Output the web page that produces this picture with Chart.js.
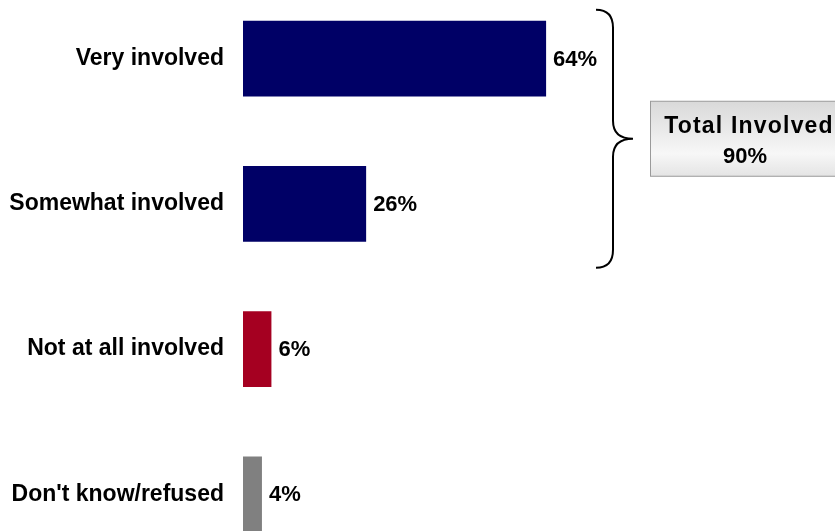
<!DOCTYPE html>
<html>
<head>
<meta charset="utf-8">
<script src="https://cdn.jsdelivr.net/npm/chart.js@4/dist/chart.umd.min.js"></script>
<style>
    html, body { margin: 0; padding: 0; background: #fff; overflow: hidden; }
    body { width: 835px; height: 531px; position: relative; }
    /* the category bands run a little past the top and bottom edge */
    #involvedChart { position: absolute; left: 0; top: -14px; }
</style>
</head>
<body>
<canvas id="involvedChart" width="835" height="581"></canvas>
<script>
const categories = ['Very involved', 'Somewhat involved', 'Not at all involved', "Don't know/refused"];
const percents = [64, 26, 6, 4];
const barColors = ['#000066', '#000066', '#A50021', '#808080'];
const totalLabel = 'Total Involved';
const totalValue = percents[0] + percents[1];

const FONT = '"Liberation Sans", Arial, sans-serif';

// value labels to the right of each bar
const valueLabels = {
    id: 'valueLabels',
    afterDatasetsDraw(chart) {
        const ctx = chart.ctx;
        const meta = chart.getDatasetMeta(0);
        ctx.save();
        ctx.fillStyle = '#000';
        ctx.font = 'bold 22px ' + FONT;
        ctx.textAlign = 'left';
        ctx.textBaseline = 'middle';
        meta.data.forEach((bar, i) => {
            ctx.fillText(percents[i] + '%', bar.x + 7, bar.y + 1);
        });
        ctx.restore();
    }
};

// curly brace grouping the first two bars, plus the total box
const totalBrace = {
    id: 'totalBrace',
    afterDraw(chart) {
        const ctx = chart.ctx;
        const meta = chart.getDatasetMeta(0);
        const b0 = meta.data[0], b1 = meta.data[1];
        const top = b0.y - b0.height / 2 - 11;
        const bottom = b1.y + b1.height / 2 + 26;
        const mid = (top + bottom) / 2;
        const x0 = 596, xs = 613, xt = 633, r = 18;

        ctx.save();
        ctx.strokeStyle = '#000';
        ctx.lineWidth = 2;
        ctx.beginPath();
        ctx.moveTo(x0, top);
        ctx.quadraticCurveTo(xs, top, xs, top + r);
        ctx.lineTo(xs, mid - r);
        ctx.quadraticCurveTo(xs, mid, xt, mid);
        ctx.quadraticCurveTo(xs, mid, xs, mid + r);
        ctx.lineTo(xs, bottom - r);
        ctx.quadraticCurveTo(xs, bottom, x0, bottom);
        ctx.stroke();

        // box
        const bx = 650.5, by = mid - 37.5, bw = 200, bh = 75;
        const grad = ctx.createLinearGradient(0, by, 0, by + bh);
        grad.addColorStop(0, '#d9d9d9');
        grad.addColorStop(0.7, '#f7f7f7');
        grad.addColorStop(1, '#e4e4e4');
        ctx.fillStyle = grad;
        ctx.fillRect(bx, by, bw, bh);
        ctx.strokeStyle = '#9a9a9a';
        ctx.lineWidth = 1;
        ctx.strokeRect(bx, by, bw, bh);

        ctx.fillStyle = '#000';
        ctx.textAlign = 'center';
        ctx.textBaseline = 'alphabetic';
        ctx.font = 'bold 23px ' + FONT;
        ctx.letterSpacing = '1.2px';
        ctx.fillText(totalLabel, 749, mid - 6);
        ctx.letterSpacing = '0px';
        ctx.font = 'bold 22px ' + FONT;
        ctx.fillText(totalValue + '%', 745, mid + 24);
        ctx.restore();
    }
};

new Chart(document.getElementById('involvedChart'), {
    type: 'bar',
    data: {
        labels: categories,
        datasets: [{
            data: percents,
            backgroundColor: barColors,
            borderWidth: 0,
            categoryPercentage: 1,
            barPercentage: 0.523
        }]
    },
    options: {
        indexAxis: 'y',
        responsive: false,
        animation: false,
        layout: { padding: 0 },
        plugins: {
            legend: { display: false },
            tooltip: { enabled: false }
        },
        scales: {
            x: {
                display: false,
                min: 0,
                max: 125
            },
            y: {
                grid: { display: false, drawTicks: false },
                border: { display: false },
                ticks: {
                    color: '#000',
                    padding: 19,
                    font: { family: FONT, size: 23, weight: 'bold' }
                },
                afterFit(scale) {
                    scale.width = 243;
                    // let the bands use the full height
                    scale.paddingTop = 0;
                    scale.paddingBottom = 0;
                }
            }
        }
    },
    plugins: [valueLabels, totalBrace]
});
</script>
</body>
</html>
